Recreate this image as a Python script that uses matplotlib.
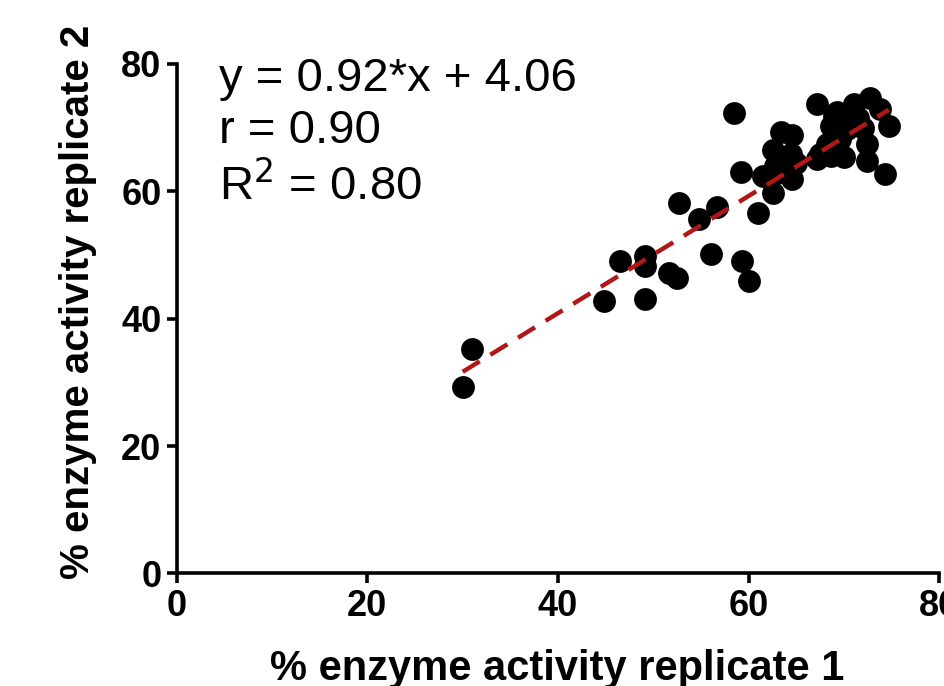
import numpy as np
import matplotlib
matplotlib.use("Agg")
import matplotlib.pyplot as plt

plt.rcParams['font.family'] = ['Liberation Sans', 'DejaVu Sans']

# replicate 1 (x) vs replicate 2 (y)
rep1 = [30.0, 31.0, 44.8, 46.5, 49.1, 49.1, 49.1, 51.6, 52.5, 52.7,
        54.8, 56.0, 56.7, 58.5, 59.2, 59.3, 60.0, 61.0, 61.5, 62.6,
        62.5, 63.4, 64.5, 63.7, 64.4, 64.5, 63.0, 65.0, 67.2, 67.2,
        67.5, 68.6, 68.2, 68.9, 69.3, 68.6, 69.6, 70.3, 71.0, 72.7,
        73.8, 74.7, 74.3, 72.4, 72.4, 70.0, 71.5, 72.0, 70.5, 62.8]
rep2 = [29.2, 35.3, 42.7, 49.0, 49.8, 48.2, 43.1, 47.2, 46.4, 58.1,
        55.6, 50.1, 57.6, 72.2, 63.0, 49.0, 45.9, 56.6, 62.4, 59.7,
        66.4, 69.3, 68.9, 65.0, 65.8, 61.9, 62.8, 64.5, 73.7, 65.0,
        65.8, 65.5, 67.4, 71.8, 72.4, 70.3, 68.2, 69.7, 73.7, 74.7,
        72.9, 70.3, 62.7, 64.8, 67.4, 65.3, 71.5, 70.0, 72.0, 64.0]

# fit reported on the chart
slope = 0.92
intercept = 4.06
r_value = 0.90
r2_value = 0.80

ticks = [0, 20, 40, 60, 80]

fig = plt.figure(figsize=(9.45, 6.86), dpi=100)
ax = fig.add_axes([0.187, 0.164, 0.807, 0.743])

ax.scatter(rep1, rep2, s=270, color="black", zorder=3, linewidths=0)

xs = np.array([min(rep1), max(rep1)])
ax.plot(xs, slope * xs + intercept, color="#b01818", lw=3.2, ls=(0, (4.5, 2.8)), zorder=4)

ax.set_xlim(0, 80)
ax.set_ylim(0, 80)
ax.set_xticks(ticks)
ax.set_yticks(ticks)
for s in ["top", "right"]:
    ax.spines[s].set_visible(False)
for s in ["left", "bottom"]:
    ax.spines[s].set_linewidth(2.6)
ax.tick_params(width=2.6, length=7, labelsize=26, pad=4)
for lab in ax.get_xticklabels() + ax.get_yticklabels():
    lab.set_fontweight("bold")

ax.text(0.055, 0.97, f"y = {slope:.2f}*x + {intercept:.2f}", transform=ax.transAxes,
        fontsize=34, va="center", ha="left")
ax.text(0.055, 0.868, f"r = {r_value:.2f}", transform=ax.transAxes,
        fontsize=34, va="center", ha="left")
ax.text(0.055, 0.76, f"R$^2$ = {r2_value:.2f}", transform=ax.transAxes,
        fontsize=34, va="center", ha="left")

fig.text(0.59, 0.025, "% enzyme activity replicate 1", fontsize=30, fontweight="bold",
         ha="center", va="center")
fig.text(0.083, 0.56, "% enzyme activity replicate 2", fontsize=29, fontweight="bold",
         ha="center", va="center", rotation=90)

fig.savefig("out.png", dpi=100)
